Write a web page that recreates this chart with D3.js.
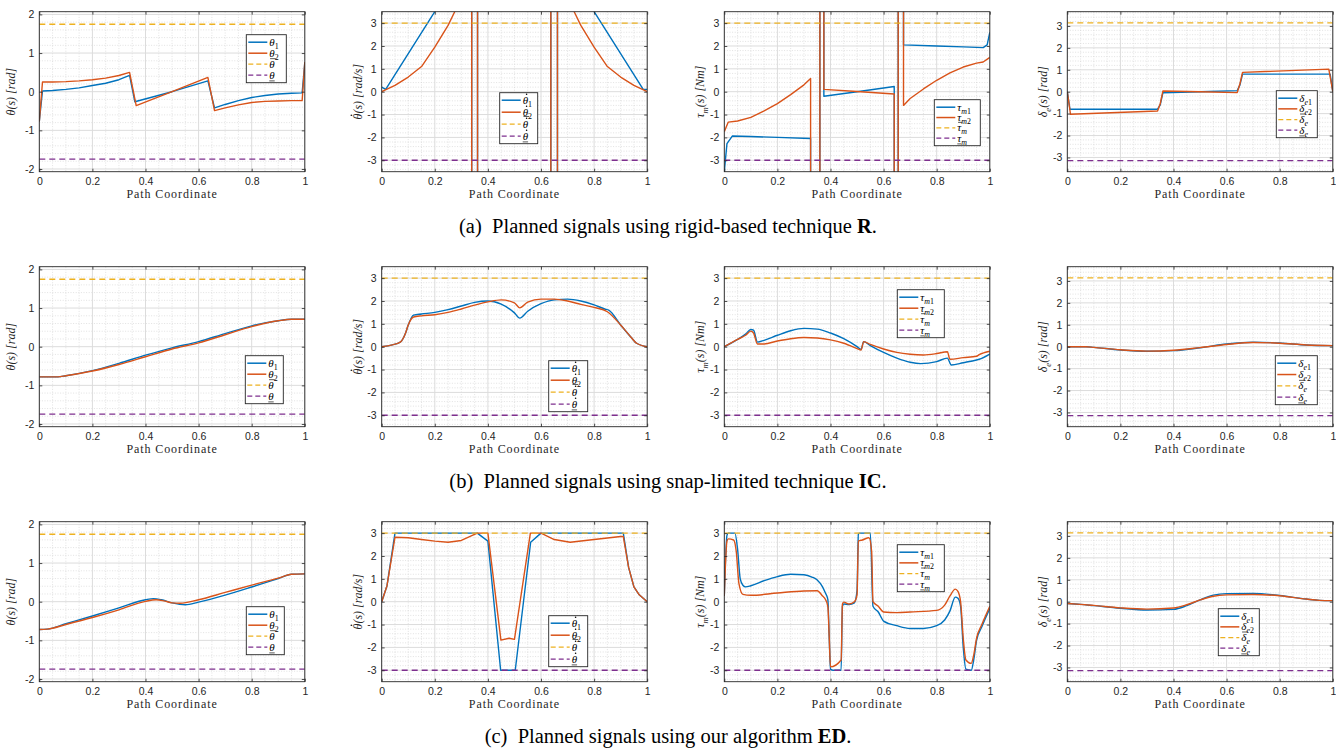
<!DOCTYPE html>
<html>
<head>
<meta charset="utf-8">
<script src="https://cdn.jsdelivr.net/npm/d3@7"></script>
<style>
  body { margin: 0; background: #fff; }
  svg { display: block; }
</style>
</head>
<body>
<svg id="fig" width="1336" height="751"></svg>
<script>
// ---- data (path coordinate s, value) ----
const xTicks = [0, 0.2, 0.4, 0.6, 0.8, 1];
const thetaTicks = [-2, -1, 0, 1, 2];
const rateTicks = [-3, -2, -1, 0, 1, 2, 3];

const thetaBound = 1.745;
const thetaDotBound = 3;
const tauBound = 3;
const deltaBound = 3.1416;

// (a) rigid-based technique R
const rTheta1 = [[0,-0.77],[0.012,0.02],[0.05,0.03],[0.1,0.06],[0.15,0.1],[0.2,0.16],[0.25,0.22],[0.3,0.31],[0.34,0.42],[0.36,-0.26],[0.5,0.0],[0.635,0.28],[0.66,-0.42],[0.7,-0.33],[0.75,-0.23],[0.8,-0.15],[0.85,-0.1],[0.9,-0.06],[0.95,-0.04],[0.99,-0.03],[1,0.75]];
const rTheta2 = [[0,-0.77],[0.012,0.25],[0.05,0.25],[0.1,0.26],[0.15,0.28],[0.2,0.31],[0.25,0.35],[0.3,0.42],[0.34,0.5],[0.365,-0.36],[0.5,0.0],[0.635,0.37],[0.66,-0.49],[0.7,-0.42],[0.75,-0.34],[0.8,-0.28],[0.85,-0.25],[0.9,-0.24],[0.95,-0.23],[0.99,-0.23],[1,0.77]];
const rThetaDot1 = [[0,0.2],[0.015,0.1],[0.2,3.5],[0.339,6.1],[0.339,-40],[0.361,-40],[0.361,40],[0.637,40],[0.637,-40],[0.662,-40],[0.662,6.2],[0.8,3.5],[0.985,0.1],[1,0.1]];
const rThetaDot2 = [[0,0],[0.05,0.28],[0.1,0.64],[0.15,1.1],[0.2,1.95],[0.25,2.9],[0.275,3.5],[0.339,6],[0.339,-40],[0.361,-40],[0.361,40],[0.637,40],[0.637,-40],[0.662,-40],[0.662,6],[0.725,3.5],[0.75,2.9],[0.8,1.95],[0.85,1.1],[0.9,0.64],[0.95,0.28],[1,0]];
const rTau1 = [[0,-3.5],[0.01,-2.27],[0.03,-1.94],[0.1,-1.96],[0.2,-2.0],[0.325,-2.05],[0.325,-40],[0.36,-40],[0.36,40],[0.375,40],[0.375,-0.2],[0.5,0.0],[0.64,0.23],[0.64,-40],[0.655,-40],[0.655,40],[0.675,40],[0.675,2.05],[0.8,2.0],[0.9,1.96],[0.975,1.93],[0.99,2.05],[1,2.6]];
const rTau2 = [[0,-1.75],[0.015,-1.33],[0.05,-1.28],[0.1,-1.12],[0.15,-0.84],[0.2,-0.52],[0.25,-0.13],[0.3,0.3],[0.325,0.58],[0.325,-40],[0.36,-40],[0.36,40],[0.375,40],[0.375,0.1],[0.5,0.01],[0.64,-0.1],[0.64,-40],[0.655,-40],[0.655,40],[0.675,40],[0.675,-0.6],[0.7,-0.3],[0.75,0.12],[0.8,0.5],[0.85,0.82],[0.9,1.08],[0.95,1.25],[0.975,1.3],[1,1.5]];
const rDelta1 = [[0,0],[0.01,-0.8],[0.34,-0.8],[0.35,-0.6],[0.36,-0.05],[0.5,0.0],[0.64,0.05],[0.65,0.3],[0.66,0.8],[0.99,0.8],[1,0]];
const rDelta2 = [[0,0],[0.012,-1.03],[0.34,-0.88],[0.35,-0.55],[0.36,0.03],[0.5,0.0],[0.64,-0.04],[0.65,0.35],[0.66,0.88],[0.985,1.03],[1,0]];

// (b) snap-limited technique IC
const bTheta1 = [[0,-0.78],[0.07,-0.78],[0.1,-0.75],[0.2,-0.62],[0.3,-0.43],[0.4,-0.22],[0.5,-0.03],[0.6,0.13],[0.7,0.34],[0.8,0.54],[0.9,0.67],[0.95,0.71],[1,0.71]];
const bTheta2 = [[0,-0.78],[0.07,-0.78],[0.1,-0.75],[0.2,-0.63],[0.3,-0.46],[0.4,-0.26],[0.5,-0.06],[0.6,0.1],[0.7,0.31],[0.8,0.52],[0.9,0.67],[0.95,0.71],[1,0.71]];
const bThetaDot1 = [[0,0],[0.04,0.08],[0.07,0.2],[0.09,0.6],[0.1,0.95],[0.12,1.38],[0.15,1.43],[0.2,1.5],[0.25,1.62],[0.3,1.78],[0.35,1.94],[0.4,2.0],[0.45,1.86],[0.5,1.48],[0.52,1.25],[0.55,1.55],[0.6,1.88],[0.65,2.05],[0.7,2.08],[0.75,2.0],[0.8,1.83],[0.84,1.65],[0.855,1.6],[0.9,0.95],[0.94,0.4],[0.96,0.15],[1,0]];
const bThetaDot2 = [[0,0],[0.04,0.08],[0.07,0.2],[0.09,0.6],[0.1,0.95],[0.12,1.3],[0.15,1.35],[0.2,1.4],[0.25,1.5],[0.3,1.65],[0.35,1.82],[0.4,1.96],[0.45,2.05],[0.5,1.92],[0.52,1.7],[0.55,1.95],[0.6,2.08],[0.65,2.08],[0.7,2.0],[0.75,1.85],[0.8,1.72],[0.85,1.53],[0.9,0.95],[0.94,0.4],[0.96,0.15],[1,0]];
const bTau1 = [[0,0],[0.05,0.32],[0.08,0.55],[0.1,0.75],[0.11,0.72],[0.125,0.2],[0.15,0.28],[0.2,0.5],[0.25,0.7],[0.3,0.8],[0.35,0.77],[0.4,0.6],[0.45,0.35],[0.5,0.0],[0.515,-0.12],[0.525,0.22],[0.55,0.05],[0.6,-0.25],[0.65,-0.5],[0.7,-0.68],[0.74,-0.74],[0.8,-0.65],[0.84,-0.5],[0.855,-0.8],[0.9,-0.7],[0.95,-0.58],[0.96,-0.55],[1,-0.32]];
const bTau2 = [[0,0],[0.05,0.32],[0.08,0.5],[0.1,0.68],[0.11,0.6],[0.125,0.12],[0.15,0.12],[0.2,0.25],[0.25,0.35],[0.3,0.4],[0.35,0.38],[0.4,0.3],[0.45,0.15],[0.5,-0.08],[0.515,-0.15],[0.525,0.22],[0.55,0.1],[0.6,-0.1],[0.65,-0.25],[0.7,-0.33],[0.75,-0.36],[0.8,-0.3],[0.84,-0.22],[0.85,-0.55],[0.9,-0.48],[0.95,-0.42],[0.96,-0.35],[1,-0.2]];
const bDelta1 = [[0,0],[0.07,0.0],[0.1,-0.03],[0.2,-0.15],[0.3,-0.21],[0.4,-0.18],[0.5,-0.05],[0.6,0.12],[0.7,0.2],[0.8,0.17],[0.9,0.08],[1,0.05]];
const bDelta2 = [[0,0],[0.07,0.0],[0.1,-0.03],[0.2,-0.14],[0.3,-0.2],[0.4,-0.16],[0.5,-0.04],[0.6,0.1],[0.7,0.19],[0.8,0.16],[0.9,0.08],[1,0.05]];

// (c) our algorithm ED
const cTheta1 = [[0,-0.72],[0.03,-0.71],[0.1,-0.57],[0.2,-0.37],[0.3,-0.16],[0.4,0.05],[0.43,0.08],[0.46,0.05],[0.5,-0.03],[0.55,-0.08],[0.6,-0.01],[0.7,0.17],[0.8,0.38],[0.9,0.6],[0.95,0.71],[1,0.72]];
const cTheta2 = [[0,-0.72],[0.03,-0.71],[0.1,-0.59],[0.2,-0.41],[0.3,-0.21],[0.4,0.01],[0.44,0.05],[0.47,0.02],[0.5,-0.03],[0.53,-0.04],[0.6,0.05],[0.7,0.24],[0.8,0.43],[0.9,0.61],[0.95,0.71],[1,0.72]];
const cThetaDot1 = [[0,0],[0.02,0.7],[0.05,3.0],[0.36,3.0],[0.4,2.65],[0.448,-3.0],[0.503,-3.0],[0.561,2.6],[0.6,3.0],[0.91,3.0],[0.93,1.5],[0.95,0.65],[0.97,0.3],[1,0]];
const cThetaDot2 = [[0,0],[0.02,0.7],[0.05,2.82],[0.1,2.8],[0.15,2.72],[0.2,2.65],[0.25,2.6],[0.3,2.68],[0.36,3.0],[0.4,3.0],[0.449,-1.68],[0.48,-1.6],[0.5,-1.65],[0.56,3.0],[0.6,3.0],[0.65,2.72],[0.71,2.6],[0.8,2.72],[0.9,2.85],[0.91,2.85],[0.93,1.5],[0.95,0.65],[0.97,0.3],[1,0]];
const cTau1 = [[0,0.25],[0.01,2.9],[0.015,3.0],[0.04,3.0],[0.05,2.3],[0.06,1.0],[0.07,0.72],[0.08,0.65],[0.1,0.7],[0.15,0.92],[0.2,1.1],[0.25,1.2],[0.3,1.18],[0.33,1.08],[0.35,0.95],[0.37,0.65],[0.38,0.4],[0.39,0.1],[0.395,-1.5],[0.4,-2.95],[0.41,-3.0],[0.44,-3.0],[0.445,-0.2],[0.45,-0.1],[0.47,-0.12],[0.49,-0.05],[0.5,0.5],[0.505,2.95],[0.51,3.0],[0.55,3.0],[0.56,-0.2],[0.58,-0.45],[0.6,-0.85],[0.65,-1.05],[0.7,-1.17],[0.75,-1.17],[0.8,-1.05],[0.83,-0.8],[0.85,-0.4],[0.87,0.2],[0.88,0.15],[0.89,-0.2],[0.9,-2.0],[0.91,-2.95],[0.93,-3.0],[0.94,-2.5],[0.95,-1.7],[0.97,-1.1],[1,-0.3]];
const cTau2 = [[0,0.25],[0.01,2.65],[0.015,2.75],[0.035,2.7],[0.045,2.2],[0.055,0.8],[0.07,0.32],[0.1,0.28],[0.2,0.38],[0.3,0.47],[0.35,0.48],[0.37,0.25],[0.38,0.12],[0.39,-0.2],[0.395,-1.5],[0.4,-2.85],[0.44,-2.55],[0.445,-0.1],[0.45,-0.02],[0.47,-0.1],[0.49,0.0],[0.5,0.3],[0.505,2.65],[0.52,2.7],[0.545,2.8],[0.555,2.2],[0.56,0.0],[0.58,-0.2],[0.6,-0.45],[0.65,-0.48],[0.7,-0.45],[0.8,-0.38],[0.83,-0.15],[0.85,0.25],[0.87,0.55],[0.88,0.45],[0.89,0.0],[0.9,-1.6],[0.91,-2.55],[0.93,-2.7],[0.94,-2.3],[0.95,-1.6],[0.97,-1.0],[1,-0.2]];
const cDelta1 = [[0,-0.08],[0.05,-0.12],[0.1,-0.18],[0.2,-0.3],[0.3,-0.38],[0.4,-0.35],[0.45,-0.18],[0.5,0.08],[0.55,0.3],[0.6,0.37],[0.7,0.38],[0.8,0.28],[0.9,0.12],[0.95,0.06],[1,0.05]];
const cDelta2 = [[0,-0.08],[0.05,-0.12],[0.1,-0.17],[0.2,-0.28],[0.3,-0.34],[0.4,-0.29],[0.45,-0.14],[0.5,0.08],[0.55,0.25],[0.6,0.31],[0.7,0.33],[0.8,0.27],[0.9,0.12],[0.95,0.06],[1,0.05]];

const captions = [
  ['(a)', ' Planned signals using rigid-based technique ', 'R'],
  ['(b)', ' Planned signals using snap-limited technique ', 'IC'],
  ['(c)', ' Planned signals using our algorithm ', 'ED'],
];

// ---- look ----
const C_BLUE = '#0072BD';
const C_ORANGE = '#D95319';
const C_YELLOW = '#EDB120';
const C_PURPLE = '#7E2F8E';
const AXIS = '#262626';
const SERIF = '"Liberation Serif", "Times New Roman", serif';
const SANS = '"Liberation Sans", Arial, sans-serif';

const colLeft = [39.3, 381.7, 724.3, 1067.3];
const rowTop = [11.7, 266.7, 521.7];
const plotW = 265.5;
const plotH = 160;

// label tokens: sub = subscript, up = upright, dot = time derivative, deco = bar over / under
const sub = (t, up) => ({t, sub: 1, up});
const kinds = {
  theta: {
    domain: [-2.07, 2.07], ticks: thetaTicks, bound: thetaBound,
    ylabel: [{t: 'θ'}, {t: '(s) [rad]'}],
    legend: [[{t: 'θ'}, sub('1', 1)], [{t: 'θ'}, sub('2', 1)], [{t: 'θ', deco: 'over'}], [{t: 'θ', deco: 'under'}]]
  },
  thetaDot: {
    domain: [-3.5, 3.5], ticks: rateTicks, bound: thetaDotBound,
    ylabel: [{t: 'θ', dot: 1}, {t: '(s) [rad/s]'}],
    legend: [[{t: 'θ', dot: 1}, sub('1', 1)], [{t: 'θ', dot: 1}, sub('2', 1)], [{t: 'θ', dot: 1, deco: 'over'}], [{t: 'θ', dot: 1, deco: 'under'}]]
  },
  tau: {
    domain: [-3.5, 3.5], ticks: rateTicks, bound: tauBound,
    ylabel: [{t: 'τ'}, sub('m'), {t: '(s) [Nm]'}],
    legend: [[{t: 'τ'}, sub('m'), sub('1', 1)], [{t: 'τ'}, sub('m'), sub('2', 1)], [{t: 'τ', deco: 'over'}, sub('m')], [{t: 'τ', deco: 'under'}, sub('m')]]
  },
  delta: {
    domain: [-3.65, 3.65], ticks: rateTicks, bound: deltaBound,
    ylabel: [{t: 'δ'}, sub('e'), {t: '(s) [rad]'}],
    legend: [[{t: 'δ'}, sub('e'), sub('1', 1)], [{t: 'δ'}, sub('e'), sub('2', 1)], [{t: 'δ', deco: 'over'}, sub('e')], [{t: 'δ', deco: 'under'}, sub('e')]]
  }
};

const panels = [
  {kind: 'theta', s1: rTheta1, s2: rTheta2, curve: d3.curveLinear, leg: [207, 23, 40, 48]},
  {kind: 'thetaDot', s1: rThetaDot1, s2: rThetaDot2, curve: d3.curveLinear, leg: [118, 81, 38, 51]},
  {kind: 'tau', s1: rTau1, s2: rTau2, curve: d3.curveLinear, leg: [210, 88, 46, 46]},
  {kind: 'delta', s1: rDelta1, s2: rDelta2, curve: d3.curveLinear, leg: [209, 79, 41, 47]},
  {kind: 'theta', s1: bTheta1, s2: bTheta2, curve: d3.curveMonotoneX, leg: [206, 89, 38, 48]},
  {kind: 'thetaDot', s1: bThetaDot1, s2: bThetaDot2, curve: d3.curveMonotoneX, leg: [167, 94, 39, 51]},
  {kind: 'tau', s1: bTau1, s2: bTau2, curve: d3.curveMonotoneX, leg: [173, 23, 47, 48]},
  {kind: 'delta', s1: bDelta1, s2: bDelta2, curve: d3.curveMonotoneX, leg: [208, 89, 42, 49]},
  {kind: 'theta', s1: cTheta1, s2: cTheta2, curve: d3.curveMonotoneX, leg: [207, 85, 38, 48]},
  {kind: 'thetaDot', s1: cThetaDot1, s2: cThetaDot2, curve: d3.curveLinear, leg: [167, 94, 39, 51]},
  {kind: 'tau', s1: cTau1, s2: cTau2, curve: d3.curveMonotoneX, leg: [173, 23, 47, 47]},
  {kind: 'delta', s1: cDelta1, s2: cDelta2, curve: d3.curveMonotoneX, leg: [151, 87, 41, 47]},
];

const svg = d3.select('#fig');

// math-ish label: italic serif, subscripts, dots and bars drawn as marks
function mathText(parent, spec, size, x, y, anchor, color) {
  const t = parent.append('text').attr('x', x).attr('y', y)
    .attr('text-anchor', anchor).attr('fill', color)
    .style('font-family', SERIF).style('font-style', 'italic').style('font-size', size + 'px');
  const shift = size * 0.28;
  let inSub = false, idx = 0;
  const marks = [];
  spec.forEach(p => {
    const ts = t.append('tspan').text(p.t);
    if (p.sub && !inSub) ts.attr('dy', shift);
    if (!p.sub && inSub) ts.attr('dy', -shift);
    if (p.sub) ts.attr('font-size', size * 0.72);
    if (p.up) ts.style('font-style', 'normal');
    inSub = !!p.sub;
    if (p.dot || p.deco) marks.push({i: idx, p});
    idx += p.t.length;
  });
  const node = t.node();
  marks.forEach(({i, p}) => {
    const a = node.getStartPositionOfChar(i);
    const b = node.getEndPositionOfChar(i);
    const slant = 0.12 * size;
    if (p.dot) {
      parent.append('circle').attr('cx', (a.x + b.x) / 2 + slant * 0.9).attr('cy', a.y - size * 0.86)
        .attr('r', size * 0.07).attr('fill', color);
    }
    if (p.deco === 'over') {
      const yy = a.y - size * (p.dot ? 1.02 : 0.82);
      parent.append('line').attr('x1', a.x + slant * 0.6).attr('x2', b.x + slant * 0.8)
        .attr('y1', yy).attr('y2', yy).attr('stroke', color).attr('stroke-width', size * 0.06);
    }
    if (p.deco === 'under') {
      const yy = a.y + size * 0.2;
      parent.append('line').attr('x1', a.x).attr('x2', b.x)
        .attr('y1', yy).attr('y2', yy).attr('stroke', color).attr('stroke-width', size * 0.06);
    }
  });
  return t;
}

const close = v => Math.abs(v - Math.round(v)) < 1e-6;

panels.forEach((p, i) => {
  const row = Math.floor(i / 4), col = i % 4;
  const k = kinds[p.kind];
  const x = d3.scaleLinear().domain([0, 1]).range([0, plotW]);
  const y = d3.scaleLinear().domain(k.domain).range([plotH, 0]);
  const g = svg.append('g').attr('transform', `translate(${colLeft[col]},${rowTop[row]})`);

  const clipId = 'clip' + i;
  g.append('clipPath').attr('id', clipId)
    .append('rect').attr('width', plotW).attr('height', plotH);

  // minor grid
  const xMinor = d3.range(0.05, 1, 0.05).filter(v => !close(v * 5));
  const yMinor = d3.range(Math.ceil(k.domain[0] / 0.2) * 0.2, k.domain[1], 0.2).filter(v => !close(v));
  const grid = g.append('g');
  grid.selectAll('.xm').data(xMinor).join('line')
    .attr('x1', d => x(d)).attr('x2', d => x(d)).attr('y1', 0).attr('y2', plotH)
    .attr('stroke', '#cfcfcf').attr('stroke-width', 0.6).attr('stroke-dasharray', '1,1.6');
  grid.selectAll('.ym').data(yMinor).join('line')
    .attr('x1', 0).attr('x2', plotW).attr('y1', d => y(d)).attr('y2', d => y(d))
    .attr('stroke', '#cfcfcf').attr('stroke-width', 0.6).attr('stroke-dasharray', '1,1.6');
  // major grid
  grid.selectAll('.xM').data(xTicks).join('line')
    .attr('x1', d => x(d)).attr('x2', d => x(d)).attr('y1', 0).attr('y2', plotH)
    .attr('stroke', '#dcdcdc').attr('stroke-width', 1);
  grid.selectAll('.yM').data(k.ticks).join('line')
    .attr('x1', 0).attr('x2', plotW).attr('y1', d => y(d)).attr('y2', d => y(d))
    .attr('stroke', '#dcdcdc').attr('stroke-width', 1);

  // signals and bounds
  const line = d3.line().x(d => x(d[0])).y(d => y(d[1])).curve(p.curve);
  const plot = g.append('g').attr('clip-path', `url(#${clipId})`);
  plot.append('path').attr('d', line(p.s1)).attr('fill', 'none')
    .attr('stroke', C_BLUE).attr('stroke-width', 1.4).attr('stroke-linejoin', 'round');
  plot.append('path').attr('d', line(p.s2)).attr('fill', 'none')
    .attr('stroke', C_ORANGE).attr('stroke-width', 1.4).attr('stroke-linejoin', 'round');
  [[k.bound, C_YELLOW], [-k.bound, C_PURPLE]].forEach(([b, c]) => {
    plot.append('path').attr('d', line([[0, b], [1, b]])).attr('fill', 'none')
      .attr('stroke', c).attr('stroke-width', 1.3).attr('stroke-dasharray', '6,4');
  });

  // axes
  const fmt = d => String(d);
  const styleAxis = a => {
    a.select('.domain').remove();
    a.selectAll('line').attr('stroke', AXIS).attr('stroke-width', 0.8);
    a.selectAll('text').attr('fill', AXIS).style('font-family', SANS).style('font-size', '10.5px');
  };
  g.append('g').attr('transform', `translate(0,${plotH})`)
    .call(d3.axisBottom(x).tickValues(xTicks).tickFormat(fmt).tickSizeInner(-3).tickSizeOuter(0).tickPadding(6))
    .call(styleAxis);
  g.append('g')
    .call(d3.axisTop(x).tickValues(xTicks).tickFormat('').tickSizeInner(-3).tickSizeOuter(0))
    .call(styleAxis);
  g.append('g')
    .call(d3.axisLeft(y).tickValues(k.ticks).tickFormat(fmt).tickSizeInner(-3).tickSizeOuter(0).tickPadding(5))
    .call(styleAxis);
  g.append('g').attr('transform', `translate(${plotW},0)`)
    .call(d3.axisRight(y).tickValues(k.ticks).tickFormat('').tickSizeInner(-3).tickSizeOuter(0))
    .call(styleAxis);
  g.append('rect').attr('width', plotW).attr('height', plotH)
    .attr('fill', 'none').attr('stroke', AXIS).attr('stroke-width', 0.9);

  // axis labels
  g.append('text').attr('x', plotW / 2).attr('y', plotH + 26)
    .attr('text-anchor', 'middle').attr('fill', AXIS)
    .style('font-family', SERIF).style('font-size', '12px').style('letter-spacing', '0.9px')
    .text('Path Coordinate');
  const yg = g.append('g')
    .attr('transform', `translate(${col === 0 ? -24 : -20},${plotH / 2}) rotate(-90)`);
  mathText(yg, k.ylabel, 12, 0, 0, 'middle', AXIS);

  // legend
  const [lx, ly, lw, lh] = p.leg;
  const lg = g.append('g').attr('transform', `translate(${lx},${ly})`);
  lg.append('rect').attr('width', lw).attr('height', lh)
    .attr('fill', '#fff').attr('stroke', AXIS).attr('stroke-width', 0.9);
  const entries = [[C_BLUE, null], [C_ORANGE, null], [C_YELLOW, '5,3'], [C_PURPLE, '5,3']];
  const step = (lh - 15) / 3;
  entries.forEach(([c, dash], j) => {
    const cy = 7.5 + j * step;
    lg.append('line').attr('x1', 2).attr('x2', 21).attr('y1', cy).attr('y2', cy)
      .attr('stroke', c).attr('stroke-width', dash ? 1.3 : 1.5).attr('stroke-dasharray', dash);
    mathText(lg, k.legend[j], 11, 23, cy + 3.5, 'start', '#000');
  });
});

// sub-figure captions
captions.forEach(([tag, body, bold], r) => {
  const t = svg.append('text').attr('x', 668).attr('y', rowTop[r] + plotH + 61)
    .attr('text-anchor', 'middle').attr('fill', '#000')
    .style('font-family', SERIF).style('font-size', '20.5px');
  t.append('tspan').text(tag + '\u00a0');
  t.append('tspan').text(body);
  t.append('tspan').attr('font-weight', 'bold').text(bold);
  t.append('tspan').text('.');
});
</script>
</body>
</html>
